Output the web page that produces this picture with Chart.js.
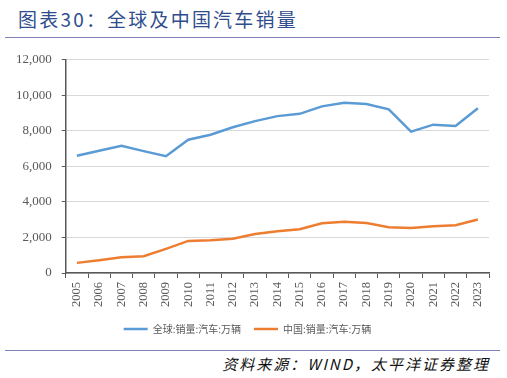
<!DOCTYPE html>
<html>
<head>
<meta charset="utf-8">
<script src="https://cdn.jsdelivr.net/npm/chart.js@4.4.1/dist/chart.umd.min.js"></script>
<style>
    body { margin: 0; background: #ffffff; }
    #page { position: relative; width: 507px; height: 378px; overflow: hidden; }
    #title {
        position: absolute; left: 18px; top: 5px;
        font-family: "Noto Sans CJK SC", sans-serif; font-size: 19px;
        letter-spacing: 2.2px; color: #2f4d8c;
    }
    #topLine { position: absolute; left: 5px; top: 37px; width: 495px; height: 0; border-top: 1.5px solid #7f80b4; }
    #chartBox { position: absolute; left: 0; top: 42px; width: 507px; height: 302px; }
    #bottomLine { position: absolute; left: 5px; top: 350px; width: 495px; height: 0; border-top: 1.5px solid #7f80b4; }
    #source {
        position: absolute; right: 17px; top: 353px;
        font-family: "Noto Sans CJK SC", sans-serif; font-size: 15px; font-style: italic;
        letter-spacing: 2px; color: #111111;
    }
</style>
</head>
<body>
<div id="page">
    <div id="title">图表30：全球及中国汽车销量</div>
    <div id="topLine"></div>
    <div id="chartBox"><canvas id="salesChart"></canvas></div>
    <div id="bottomLine"></div>
    <div id="source">资料来源：WIND，太平洋证券整理</div>
</div>
<script>
const years = ['2005', '2006', '2007', '2008', '2009', '2010', '2011', '2012', '2013', '2014',
    '2015', '2016', '2017', '2018', '2019', '2020', '2021', '2022', '2023'];
const worldSales = [6600, 6880, 7160, 6860, 6570, 7500, 7780, 8200, 8550, 8830,
    8960, 9380, 9580, 9510, 9210, 7960, 8350, 8270, 9270];
const chinaSales = [570, 720, 880, 940, 1360, 1806, 1850, 1930, 2198, 2349,
    2460, 2803, 2888, 2808, 2577, 2531, 2627, 2686, 3009];
const seriesNames = ['全球:销量:汽车:万辆', '中国:销量:汽车:万辆'];

function renderSalesChart() {
    const ctx = document.getElementById('salesChart');

    new Chart(ctx, {
        type: 'line',
        data: {
            labels: years,
            datasets: [
                {
                    label: seriesNames[0],
                    data: worldSales,
                    borderColor: '#5b9bd5',
                    backgroundColor: '#5b9bd5',
                    borderWidth: 2.5,
                    pointRadius: 0,
                    tension: 0
                },
                {
                    label: seriesNames[1],
                    data: chinaSales,
                    borderColor: '#ed7d31',
                    backgroundColor: '#ed7d31',
                    borderWidth: 2.5,
                    pointRadius: 0,
                    tension: 0
                }
            ]
        },
        options: {
            responsive: true,
            maintainAspectRatio: false,
            animation: false,
            layout: {
                padding: { left: 6, right: 18, top: 2, bottom: 0 }
            },
            plugins: {
                legend: {
                    position: 'bottom',
                    labels: {
                        usePointStyle: true,
                        pointStyle: 'line',
                        pointStyleWidth: 24,
                        padding: 13,
                        color: '#595959',
                        font: { family: '"Noto Sans CJK SC", sans-serif', size: 10 }
                    }
                },
                tooltip: { enabled: false }
            },
            scales: {
                y: {
                    min: 0,
                    max: 12000,
                    ticks: {
                        stepSize: 2000,
                        color: '#595959',
                        padding: 10,
                        font: { family: '"Liberation Serif", serif', size: 13 },
                        callback: function(value) {
                            return value.toLocaleString('en-US');
                        }
                    },
                    grid: {
                        color: '#d9d9d9',
                        tickColor: '#595959',
                        tickLength: 4
                    },
                    border: { color: '#595959', width: 1.5 }
                },
                x: {
                    offset: true,
                    ticks: {
                        color: '#595959',
                        minRotation: 90,
                        maxRotation: 90,
                        padding: 4,
                        font: { family: '"Liberation Serif", serif', size: 12.5 }
                    },
                    grid: {
                        offset: true,
                        drawOnChartArea: false,
                        tickColor: '#595959',
                        tickLength: 5
                    },
                    border: { color: '#595959', width: 1.5 }
                }
            }
        }
    });
}

renderSalesChart();
</script>
</body>
</html>
